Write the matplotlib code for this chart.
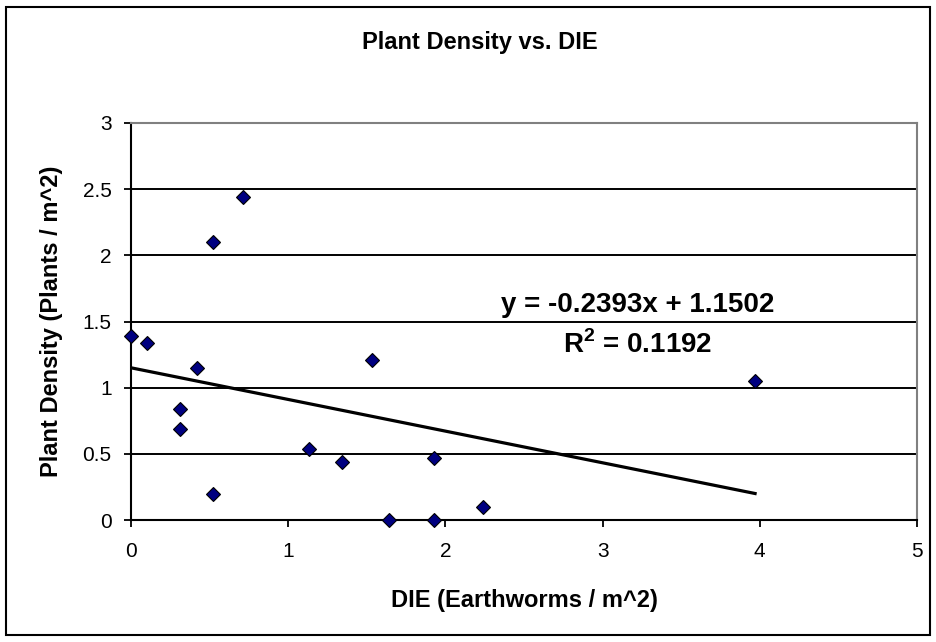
import numpy as np
import matplotlib
matplotlib.use('Agg')
import matplotlib.pyplot as plt
from matplotlib.patches import Rectangle

plt.rcParams['font.family'] = ['Liberation Sans', 'DejaVu Sans']
plt.rcParams['mathtext.fontset'] = 'custom'
plt.rcParams['mathtext.rm'] = 'Liberation Sans'
plt.rcParams['mathtext.bf'] = 'Liberation Sans:bold'

# DIE (earthworms / m^2) vs plant density (plants / m^2)
die = [0.00, 0.10, 0.31, 0.31, 0.42, 0.52, 0.52, 0.71, 1.13, 1.34, 1.53, 1.64, 1.93, 1.93, 2.24, 3.97]
plants = [1.39, 1.34, 0.84, 0.69, 1.15, 2.10, 0.20, 2.44, 0.54, 0.44, 1.21, 0.00, 0.47, 0.00, 0.10, 1.05]

# linear trendline as printed on the chart
slope = -0.2393
intercept = 1.1502
r_squared = 0.1192

xticks = [0, 1, 2, 3, 4, 5]
yticks = [0, 0.5, 1, 1.5, 2, 2.5, 3]
ytick_labels = ['0', '0.5', '1', '1.5', '2', '2.5', '3']

W, H = 936, 642
fig = plt.figure(figsize=(W / 100, H / 100), dpi=100)
fig.patch.set_facecolor('white')

# outer chart border
fig.patches.append(Rectangle((6 / W, 1 - 635 / H), 924 / W, 628 / H,
                             transform=fig.transFigure, fill=False,
                             edgecolor='black', linewidth=1.5))

ax = fig.add_axes([131 / W, 1 - 520 / H, (917 - 131) / W, (520 - 123) / H])
ax.set_xlim(0, 5)
ax.set_ylim(0, 3)

# horizontal gridlines
ax.hlines(yticks[1:-1], 0, 5, colors='black', linewidth=1.4, zorder=1)

# trendline
xs = np.array([0, max(die)])
ax.plot(xs, slope * xs + intercept, color='black', linewidth=2.3, zorder=2)

ax.plot(die, plants, linestyle='none', marker='D', markersize=7,
        markerfacecolor='#000080', markeredgecolor='black',
        markeredgewidth=0.8, clip_on=False, zorder=3)

ax.set_xticks(xticks)
ax.set_xticklabels([str(t) for t in xticks])
ax.set_yticks(yticks)
ax.set_yticklabels(ytick_labels)
ax.tick_params(direction='out', length=5, width=1.3, labelsize=15,
               colors='black')
ax.tick_params(axis='y', pad=9)
ax.tick_params(axis='x', pad=11)

for side in ['left', 'bottom']:
    ax.spines[side].set_color('black')
    ax.spines[side].set_linewidth(1.5)
for side in ['top', 'right']:
    ax.spines[side].set_color('#808080')
    ax.spines[side].set_linewidth(1.5)

ax.text(0.645, 0.542, 'y = -0.2393x + 1.1502', transform=ax.transAxes,
        ha='center', va='center', fontsize=20, fontweight='bold')
ax.text(0.645, 0.441, r'R$^{\mathbf{2}}$ = ' + str(r_squared),
        transform=ax.transAxes, ha='center', va='center', fontsize=20,
        fontweight='bold')

fig.text(480 / W, 1 - 42 / H, 'Plant Density vs. DIE', ha='center',
         va='center', fontsize=17, fontweight='bold')
fig.text(524 / W, 1 - 600 / H, 'DIE (Earthworms / m^2)', ha='center',
         va='center', fontsize=17, fontweight='bold')
fig.text(52 / W, 1 - 321 / H, 'Plant Density (Plants / m^2)', ha='center',
         va='center', rotation=90, fontsize=17, fontweight='bold')

fig.savefig('out.png', dpi=100)
